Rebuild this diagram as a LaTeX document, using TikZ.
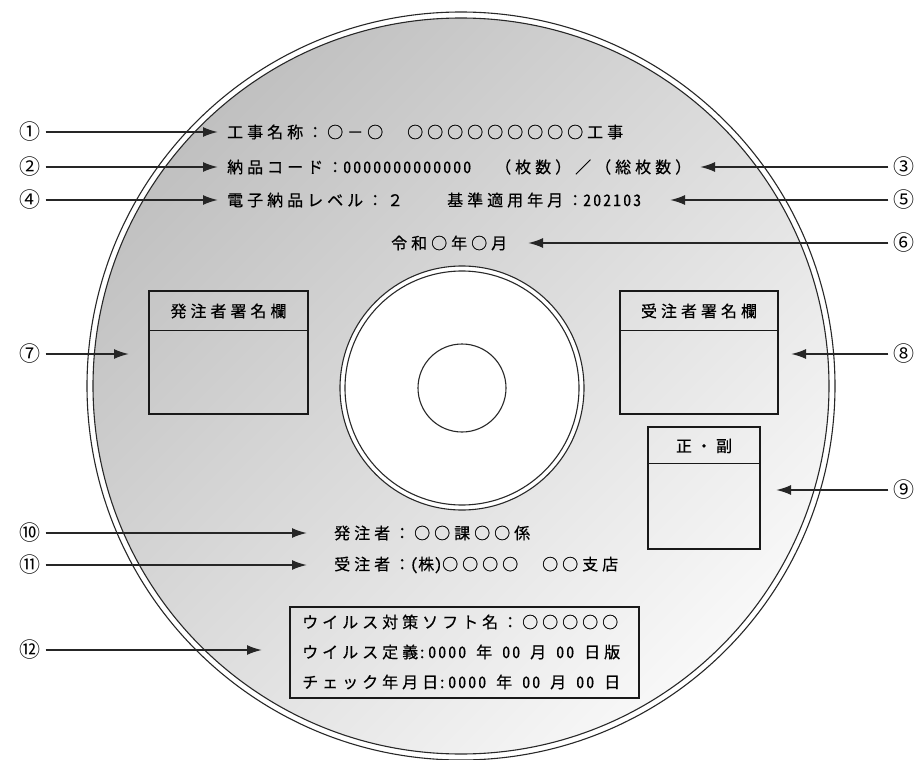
\documentclass[tikz,border=0pt]{standalone}
\usepackage{fontspec}
\usepackage{xcolor}
\usetikzlibrary{arrows.meta}
\newfontfamily\jp[LetterSpace=25,FakeBold=0.5]{Noto Sans CJK JP}
\newfontfamily\jpdigit[LetterSpace=12.5,CharacterWidth=Half,FakeBold=0.5]{Noto Sans CJK JP}
\newfontfamily\jpmark{Noto Sans CJK JP}
\newcommand{\dg}[1]{{\jpdigit #1}}
\definecolor{discDark}{RGB}{192,192,192}
\definecolor{discLight}{RGB}{248,248,248}
\definecolor{rimColor}{RGB}{40,40,40}

\begin{document}
\begin{tikzpicture}[x=1pt, y=-1pt,
    jptxt/.style={inner sep=0pt, anchor=west, font=\jp\fontsize{16}{18}\selectfont},
    jptitle/.style={inner sep=0pt, font=\jp\fontsize{16}{18}\selectfont},
    numlabel/.style={inner sep=0pt, font=\jpmark\fontsize{21}{22}\selectfont},
    callout/.style={-{Latex[length=15pt,width=10pt]}, line width=1.9pt, black!85, shorten <=5pt},
    sigbox/.style={draw=black!90, line width=1.2pt, inner sep=0pt},
    rim/.style={draw=rimColor, line width=1.1pt}]
  \useasboundingbox (0,0) rectangle (919,760);
  \fill[white] (0,0) rectangle (919,760);

  % disc
  \coordinate (discCenter) at (461,386);
  \coordinate (hubCenter) at (462,388);
  \draw[rim] (discCenter) circle (374pt);
  \shade[shading=axis, top color=discDark, bottom color=discLight, shading angle=45] (discCenter) circle (368pt);
  \draw[rim] (discCenter) circle (368pt);
  \draw[rim, fill=white] (hubCenter) circle (122pt);
  \draw[rim] (hubCenter) circle (117pt);
  \draw[rim] (hubCenter) circle (44pt);

  % printed texts
  \node[jptxt] (title) at (227,132) {工事名称：○－○　○○○○○○○○○工事};
  \node[jptxt] (code) at (227,167) {納品コード：\dg{0000000000000}　\hspace{8pt}（枚数）／（総枚数）};
  \node[jptxt] (level) at (227,200) {電子納品レベル：２　　基準適用年月：\dg{202103}};
  \node[jptxt] (date) at (391,243) {令和○年○月};
  \node[jptxt] (client) at (334,533) {発注者：○○課○○係};
  \node[jptxt] (contractor) at (334,565) {受注者：\dg{(}株\dg{)}○○○○　○○支店};

  % signature boxes
  \node[sigbox, minimum width=159pt, minimum height=123pt] (clientBox) at (228.5,352.5) {};
  \draw[sigbox] (clientBox.north west) ++(0,40) -- ++(159,0);
  \node[jptitle] (clientTitle) at (228.5,311) {発注者署名欄};
  \node[sigbox, minimum width=158pt, minimum height=123pt] (contractorBox) at (699,352.5) {};
  \draw[sigbox] (contractorBox.north west) ++(0,40) -- ++(158,0);
  \node[jptitle] (contractorTitle) at (699,311) {受注者署名欄};
  \node[sigbox, minimum width=112pt, minimum height=122pt] (copyBox) at (704,488) {};
  \draw[sigbox] (copyBox.north west) ++(0,37) -- ++(112,0);
  \node[jptitle] (copyTitle) at (704,446) {正・副};

  % virus check box
  \node[sigbox, minimum width=349pt, minimum height=91pt] (virusBox) at (464.5,652.5) {};
  \node[jptxt] (virusName) at (302,622) {ウイルス対策ソフト名：○○○○○};
  \node[jptxt] (virusDef) at (302,652) {ウイルス定義\dg{:}\dg{0000 }年\dg{ 00 }月\dg{ 00 }日版};
  \node[jptxt] (checkDate) at (302,682) {チェック年月日\dg{:}\dg{0000 }年\dg{ 00 }月\dg{ 00 }日};

  % numbers and arrows
  \node[numlabel] (n1) at (30,132) {①};
  \node[numlabel] (n2) at (30,167) {②};
  \node[numlabel] (n3) at (904,167) {③};
  \node[numlabel] (n4) at (30,200) {④};
  \node[numlabel] (n5) at (904,200) {⑤};
  \node[numlabel] (n6) at (904,243) {⑥};
  \node[numlabel] (n7) at (30,354) {⑦};
  \node[numlabel] (n8) at (904,354) {⑧};
  \node[numlabel] (n9) at (904,490) {⑨};
  \node[numlabel] (n10) at (30,533) {⑩};
  \node[numlabel] (n11) at (30,565) {⑪};
  \node[numlabel] (n12) at (30,650) {⑫};

  \coordinate (a1) at (218,132);
  \coordinate (a2) at (218,167);
  \coordinate (a3) at (700,167);
  \coordinate (a4) at (218,200);
  \coordinate (a5) at (670,200);
  \coordinate (a6) at (528,243);
  \coordinate (a7) at (129,354);
  \coordinate (a8) at (791,354);
  \coordinate (a9) at (776,490);
  \coordinate (a10) at (307,533);
  \coordinate (a11) at (307,565);
  \coordinate (a12) at (262,650);

  \foreach \i in {1,...,12}
    \draw[callout] (n\i) -- (a\i);
\end{tikzpicture}
\end{document}
